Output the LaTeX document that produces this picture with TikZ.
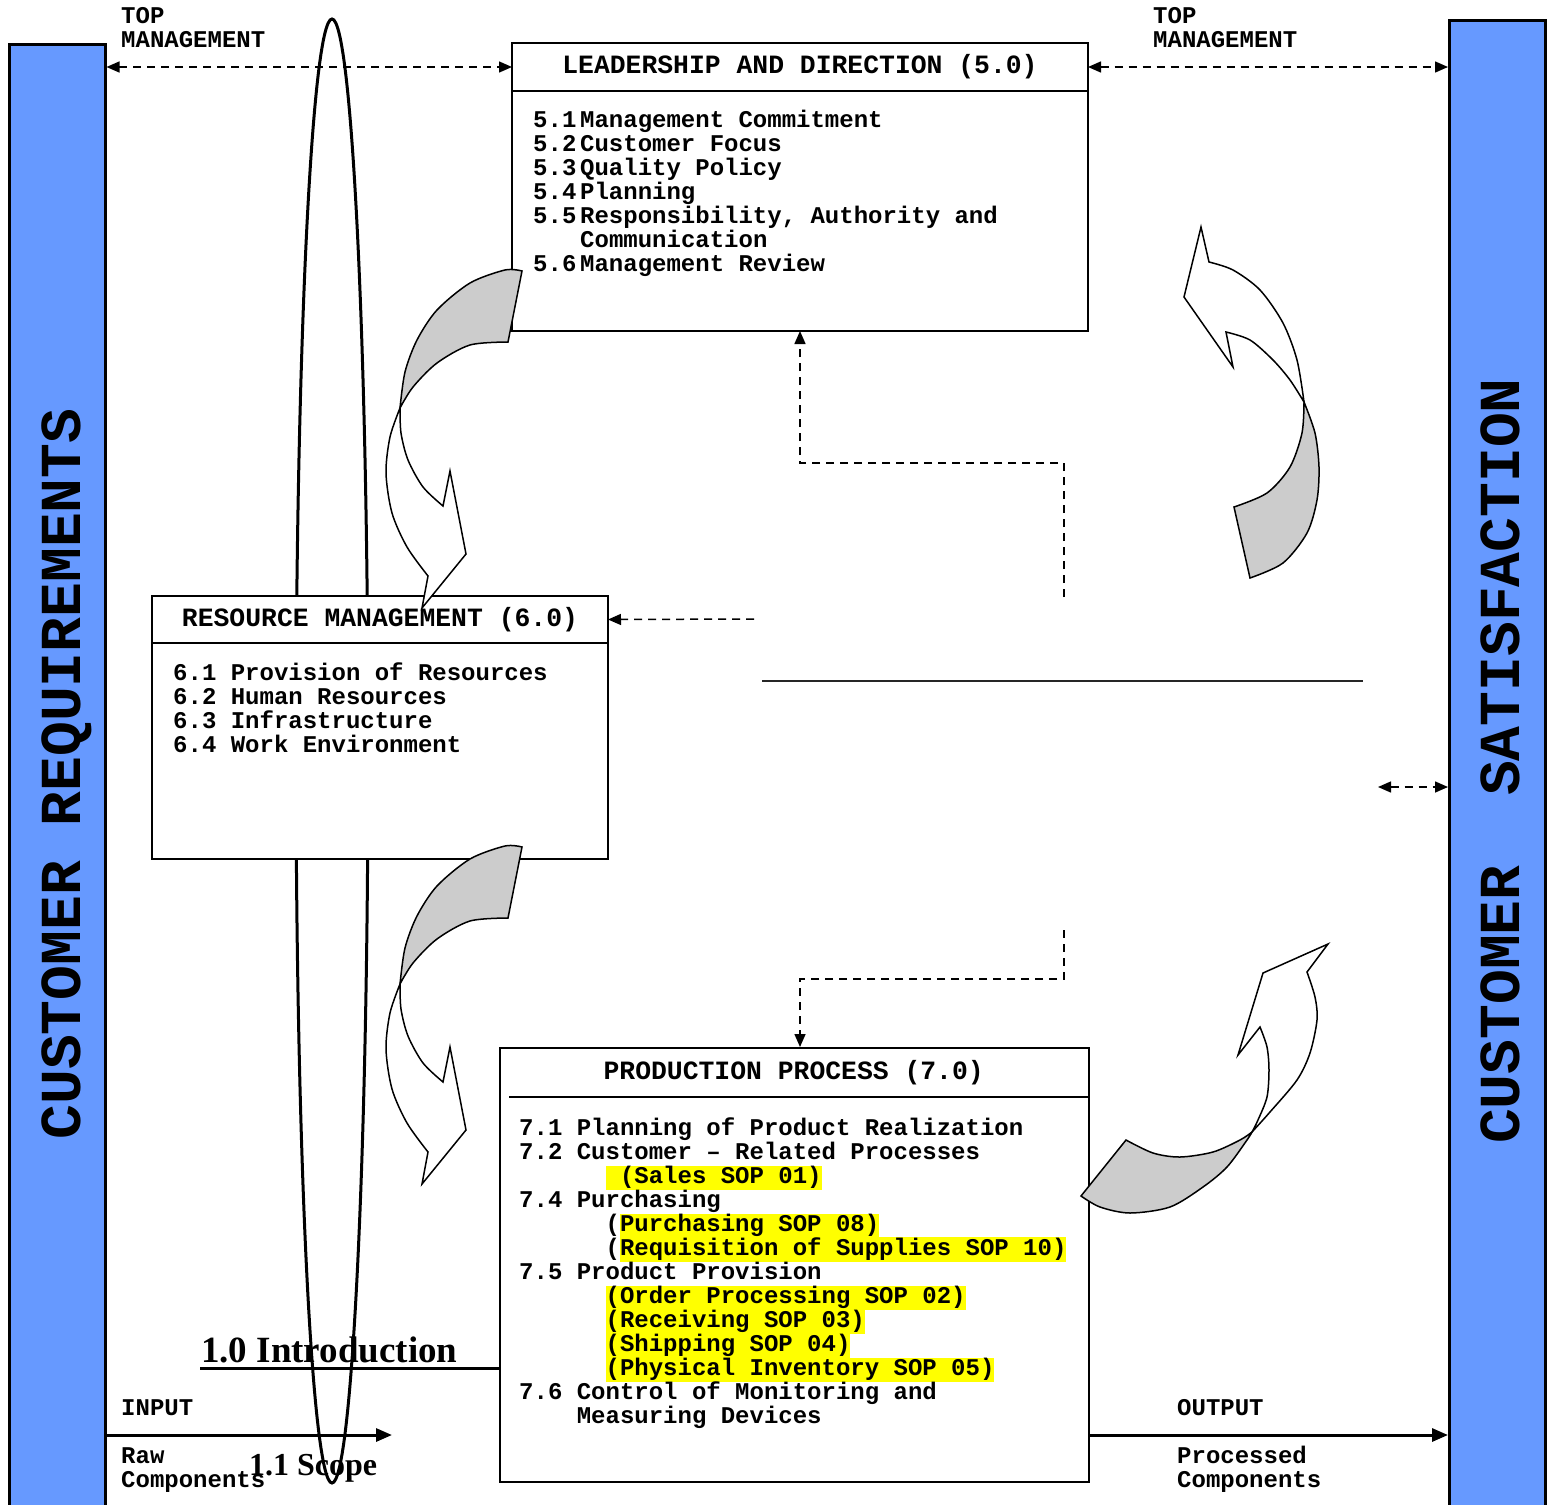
\documentclass[tikz,border=0pt]{standalone}
\usepackage{fontspec}
\setmainfont{Liberation Serif}
\setmonofont{Liberation Mono}
\usepackage{xcolor}
\usetikzlibrary{arrows.meta,positioning}

\definecolor{barblue}{HTML}{6699FF}
\definecolor{hlyellow}{HTML}{FFFF00}
\newlength\cw \setlength\cw{14.4pt}
\newcommand\txtfont{\fontsize{24}{24}\selectfont\ttfamily\bfseries\lineskiplimit=-20pt}
\newcommand\hdrfont{\fontsize{26.4}{26.4}\selectfont\ttfamily\bfseries}
\newcommand\bigfont{\fontsize{58}{58}\selectfont\ttfamily\bfseries}
\newcommand\introfont{\fontsize{37}{37}\selectfont\rmfamily\bfseries}
\newcommand\scopefont{\fontsize{32}{32}\selectfont\rmfamily\bfseries}
\newcommand\hl[1]{{\setlength\fboxsep{0pt}\colorbox{hlyellow}{\strut#1}}}
\newcommand\num[1]{\makebox[47pt][l]{#1}}

\begin{document}
\begin{tikzpicture}[
  x=1pt, y=-1pt,
  >={Triangle[length=13pt,width=11pt]},
  bar/.style={draw, line width=2.5pt, fill=barblue, minimum width=96pt,
              anchor=north west, inner sep=0pt},
  bigtxt/.style={font=\bigfont, rotate=90, anchor=base, inner sep=0pt},
  hdrbox/.style={draw, line width=2pt, fill=white, anchor=north west,
                 font=\hdrfont, inner sep=0pt, outer sep=0pt},
  bodybox/.style={draw, line width=2pt, fill=white, anchor=north, inner sep=0pt,
                  outer sep=0pt},
  lst/.style={font=\txtfont, align=left, anchor=north west, inner sep=0pt},
  dasharr/.style={dash pattern=on 8pt off 6pt, line width=1.5pt},
  ioarr/.style={line width=3pt, -{Triangle[length=16pt,width=13pt]}},
  backband/.style={draw, line width=1.5pt, fill=gray!40, line join=miter},
  frontband/.style={draw, line width=1.5pt, fill=white, line join=miter},
]
\useasboundingbox (0,0) rectangle (1551,1505);
\fill[white] (0,0) rectangle (1551,1505);

% customer bars
\node[bar, minimum height=1480pt] (leftbar)  at (8,43)    {};
\node[bar, minimum height=1500pt] (rightbar) at (1448,19) {};
\node[bigtxt] (custreq) at (80,774)   {CUSTOMER REQUIREMENTS};
\node[bigtxt] (custsat) at (1519,761) {CUSTOMER\ \ SATISFACTION};

% leadership (5.0)
\node[hdrbox, minimum width=576pt, minimum height=48pt] (leadhdr) at (512,43)
      {LEADERSHIP AND DIRECTION (5.0)};
\node[bodybox, minimum width=576pt, minimum height=240pt] (leadbody) at (leadhdr.south) {};
\node[lst] (leadlist) at (533,110.2)
      {\strut\num{5.1}Management Commitment\\
       \num{5.2}Customer Focus\\
       \num{5.3}Quality Policy\\
       \num{5.4}Planning\\
       \num{5.5}Responsibility, Authority and\\
       \num{}Communication\\
       \num{5.6}Management Review};

% production (7.0)
\node[draw, line width=2pt, fill=white, minimum width=589pt, minimum height=434pt,
      anchor=north west, inner sep=0pt] (prodbox) at (499,1047) {};
\node[font=\hdrfont, minimum width=589pt, minimum height=50pt, anchor=north west,
      inner sep=0pt] (prodhdr) at (499,1047) {PRODUCTION PROCESS (7.0)};
\draw[line width=2pt] ([xshift=10pt]prodhdr.south west) -- (prodhdr.south east);
\node[lst] (prodlist) at (519,1117.2)
      {\strut 7.1 Planning of Product Realization\\
       7.2 Customer – Related Processes\\
       \hspace*{6\cw}\hl{\ (Sales SOP 01)}\\
       7.4 Purchasing\\
       \hspace*{6\cw}(\hl{Purchasing SOP 08)}\\
       \hspace*{6\cw}(\hl{Requisition of Supplies SOP 10)}\\
       7.5 Product Provision\\
       \hspace*{6\cw}\hl{(Order Processing SOP 02)}\\
       \hspace*{6\cw}\hl{(Receiving SOP 03)}\\
       \hspace*{6\cw}\hl{(Shipping SOP 04)}\\
       \hspace*{6\cw}\hl{(Physical Inventory SOP 05)}\\
       7.6 Control of Monitoring and\\
       \hspace*{4\cw}Measuring Devices};

% labels
\node[lst] (topl)    at (121,6.2)     {\strut TOP\\MANAGEMENT};
\node[lst] (topr)    at (1153,6.2)    {\strut TOP\\MANAGEMENT};
\node[lst] (inlbl)   at (121,1398.2)  {\strut INPUT};
\node[lst] (rawlbl)  at (121,1446.2)  {\strut Raw\\Components};
\node[lst] (outlbl)  at (1177,1398.2) {\strut OUTPUT};
\node[lst] (proclbl) at (1177,1446.2) {\strut Processed\\Components};
\node[font=\introfont, anchor=base west, inner sep=0pt] (intro) at (201,1362) {1.0 Introduction};
\node[font=\scopefont, anchor=base west, inner sep=0pt] (scope) at (249,1475) {1.1 Scope};
\coordinate (introline) at ([shift={(-1pt,-6pt)}]intro.base west);
\draw[line width=3pt] (introline) -- (introline -| prodbox.west);

% top management links
\draw[dasharr,<->] (leftbar.east |- leadhdr.west) -- (leadhdr.west);
\draw[dasharr,<->] (leadhdr.east) -- (rightbar.west |- leadhdr.east);

% input / output
\coordinate (rawend) at (392,1435);
\draw[ioarr] (leftbar.east |- rawend) -- (rawend);
\draw[ioarr] (prodbox.east |- rawend) -- (rightbar.west |- rawend);

% scope ellipse
\draw[line width=3pt] (332,751) ellipse [x radius=36, y radius=732];

% resource (6.0)
\node[hdrbox, minimum width=456pt, minimum height=47pt] (reshdr) at (152,596)
      {RESOURCE MANAGEMENT (6.0)};
\node[bodybox, minimum width=456pt, minimum height=216pt] (resbody) at (reshdr.south) {};
\node[lst] (reslist) at (173,662.2)
      {\strut 6.1 Provision of Resources\\
       6.2 Human Resources\\
       6.3 Infrastructure\\
       6.4 Work Environment};

% feedback connectors
\coordinate (leadfeed) at (1064,597);
\coordinate (leadbend) at (1064,463);
\draw[dasharr,->] (leadfeed) -- (leadbend) -| (leadbody.south);
\coordinate (resfeed) at (754,619);
\draw[dasharr,->] (resfeed) -- (reshdr.east);
\coordinate (prodfeed) at (1064,930);
\coordinate (prodbend) at (1064,979);
\draw[dasharr,->] (prodfeed) -- (prodbend) -| (prodbox.north -| leadbody.south);
\coordinate (midl) at (762,681);
\coordinate (midr) at (1363,681);
\draw[line width=1.5pt, black!85] (midl) -- (midr);
\coordinate (satfeed) at (1378,787);
\draw[dasharr,<->] (satfeed) -- (rightbar.west |- satfeed);

% curved arrows, left side
\foreach \dy in {0,576} {
  \begin{scope}[shift={(0,\dy)}]
    \path[backband] plot[smooth] coordinates {(522,271) (505,270) (470,283) (437,310) (417,340) (405,372) (400,408)}
      -- plot[smooth] coordinates {(400,408) (413,387) (437,363) (470,345) (508,342)} -- cycle;
    \path[frontband] plot[smooth] coordinates {(400,408) (390,437) (386,473) (392,513) (407,547) (428,576)}
      -- (422,608) -- (466,554) -- (450,471) -- (443,506)
      -- plot[smooth] coordinates {(443,506) (423,487) (408,460) (401,433) (400,408)} -- cycle;
  \end{scope}
}

% curved arrow, top right
\path[backband] plot[smooth] coordinates {(1304,402) (1315,433) (1319,467) (1317,500) (1307,533) (1283,563) (1250,578)}
  -- (1234,507)
  -- plot[smooth] coordinates {(1234,507) (1267,493) (1290,467) (1302,433) (1304,402)} -- cycle;
\path[frontband] plot[smooth] coordinates {(1304,402) (1297,360) (1283,323) (1260,290) (1233,270) (1209,262)}
  -- (1201,227) -- (1184,297) -- (1233,367) -- (1226,332)
  -- plot[smooth] coordinates {(1226,332) (1250,340) (1273,360) (1290,380) (1304,402)} -- cycle;

% curved arrow, bottom right
\path[backband] plot[smooth] coordinates {(1252,1132) (1240,1140) (1213,1152) (1180,1157) (1153,1153) (1126,1140)}
  -- (1081,1196)
  -- plot[smooth] coordinates {(1081,1196) (1100,1207) (1130,1213) (1170,1207) (1203,1187) (1227,1167) (1247,1140) (1252,1132)} -- cycle;
\path[frontband] plot[smooth] coordinates {(1252,1132) (1270,1112) (1297,1080) (1310,1053) (1317,1020) (1315,997) (1307,972)}
  -- (1328,944) -- (1263,973) -- (1238,1055) -- (1260,1027)
  -- plot[smooth] coordinates {(1260,1027) (1267,1047) (1269,1070) (1267,1097) (1258,1120) (1252,1132)} -- cycle;
\end{tikzpicture}
\end{document}
